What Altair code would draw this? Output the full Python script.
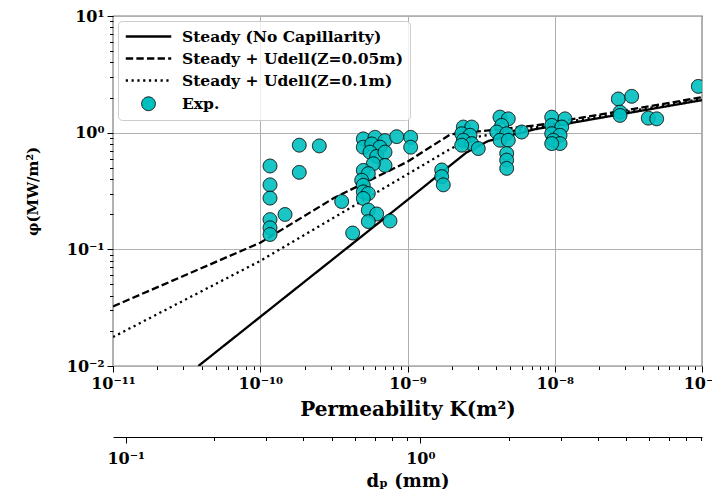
import altair as alt
import pandas as pd

FONT = "DejaVu Serif"

SERIES = ["Steady (No Capillarity)", "Steady + Udell(Z=0.05m)",
          "Steady + Udell(Z=0.1m)", "Exp."]

# model curves (K in m^2, phi in MW/m^2)
steady_K = [3.8e-11, 1.0e-9, 2.51e-9, 3.55e-9, 7.35e-9, 1.0e-7]
steady_phi = [0.01, 0.265, 0.676, 0.851, 1.07, 1.90]

udell005_K = [1e-11, 1e-10, 3.16e-10, 1e-9, 1.95e-9, 7.35e-9, 1e-7]
udell005_phi = [0.0324, 0.114, 0.275, 0.564, 0.966, 1.151, 2.01]

udell01_K = [1e-11, 1e-10, 1e-9, 1.95e-9, 2.82e-9, 7.35e-9, 1e-7]
udell01_phi = [0.0177, 0.0796, 0.440, 0.724, 0.912, 1.109, 1.95]

# experimental points
exp_K = [1.165e-10, 1.165e-10, 1.165e-10, 1.165e-10, 1.165e-10, 1.165e-10,
         1.473e-10, 1.841e-10, 2.518e-10, 1.841e-10, 3.573e-10, 4.243e-10,
         5.010e-10, 6.016e-10, 7.034e-10, 8.446e-10, 1.051e-9, 1.051e-9,
         5.010e-10, 5.714e-10, 6.503e-10, 5.564e-10, 6.177e-10, 7.034e-10,
         7.034e-10, 5.858e-10, 5.010e-10, 5.418e-10, 4.887e-10, 5.010e-10,
         5.010e-10, 5.418e-10, 5.010e-10, 5.418e-10, 6.177e-10, 5.418e-10,
         7.606e-10, 1.707e-9, 1.707e-9, 1.750e-9,
         2.393e-9, 2.729e-9, 2.334e-9, 2.657e-9, 2.393e-9, 2.729e-9, 2.334e-9, 3.025e-9,
         4.247e-9, 4.836e-9, 4.361e-9, 4.034e-9, 4.717e-9, 5.965e-9, 4.247e-9,
         4.836e-9, 4.717e-9, 4.717e-9, 4.717e-9,
         9.535e-9, 1.174e-8, 9.535e-9, 1.115e-8, 9.535e-9, 1.086e-8, 9.777e-9,
         1.086e-8, 9.535e-9,
         2.701e-8, 3.331e-8, 2.774e-8, 2.774e-8, 4.317e-8, 4.925e-8, 9.44e-8]
exp_phi = [0.518, 0.357, 0.275, 0.180, 0.153, 0.134,
           0.199, 0.781, 0.770, 0.457, 0.257, 0.138,
           0.884, 0.913, 0.855, 0.924, 0.913, 0.751,
           0.751, 0.801, 0.751, 0.681, 0.625, 0.681,
           0.524, 0.542, 0.475, 0.446, 0.391, 0.354,
           0.311, 0.301, 0.273, 0.217, 0.201, 0.173,
           0.175, 0.479, 0.420, 0.357,
           1.117, 1.117, 0.980, 0.950, 0.861, 0.806, 0.781, 0.731,
           1.359, 1.314, 1.155, 1.013, 0.980, 1.013, 0.861,
           0.861, 0.663, 0.582, 0.494,
           1.359, 1.314, 1.155, 1.117, 0.980, 0.950, 0.861,
           0.806, 0.806,
           1.944, 2.049, 1.498, 1.405, 1.332, 1.314, 2.493]

# axes
K_domain = [1e-11, 1e-7]
phi_domain = [1e-2, 1e1]
dp_domain = [0.0905, 9.05]
K_decades = [1e-11, 1e-10, 1e-9, 1e-8, 1e-7]
phi_decades = [1e-2, 1e-1, 1e0, 1e1]
dp_decades = [0.01, 0.1, 1.0]
minor_mult = [2, 3, 4, 5, 6, 7, 8, 9]

CYAN = "#00bfbf"
# legend styling per series (lines, lines, lines, marker)
LINE_SYMBOL = "M-3.3,0H3.3"
dash_range = [[1, 0], [7.4, 3.2], [2.2, 3.6], [1, 0]]
shape_range = [LINE_SYMBOL, LINE_SYMBOL, LINE_SYMBOL, "circle"]
width_range = [2.3, 2.3, 2.3, 1]
stroke_range = ["black", "black", "black", "black"]


def with_minor(decades, lo, hi):
    vals = []
    for d in decades:
        for m in [1] + minor_mult:
            v = d * m
            if lo * 0.999 <= v <= hi * 1.001:
                vals.append(v)
    return vals


K_ticks = with_minor(K_decades, *K_domain)
phi_ticks = with_minor(phi_decades, *phi_domain)
dp_ticks = with_minor(dp_decades, *dp_domain)

rows = []
for name, ks, ps in [(SERIES[0], steady_K, steady_phi),
                     (SERIES[1], udell005_K, udell005_phi),
                     (SERIES[2], udell01_K, udell01_phi)]:
    for k, p in zip(ks, ps):
        rows.append({"series": name, "K": k, "phi": p})
line_df = pd.DataFrame(rows)
exp_df = pd.DataFrame({"K": exp_K, "phi": exp_phi, "series": SERIES[3]})
dp_df = pd.DataFrame({"d": dp_domain})

L10 = "(log(datum.value)/LN10)"
EXPN = f"round{L10}"
IS_DEC = f"abs({L10} - {EXPN}) < 0.001"
SUP = "['⁰','¹','²','³','⁴','⁵','⁶','⁷','⁸','⁹']"
LABEL = (f"{IS_DEC} ? '10' + ({EXPN} < 0 ? '⁻' : '') + "
         f"(abs({EXPN}) >= 10 ? {SUP}[floor(abs({EXPN})/10)] : '') + "
         f"{SUP}[abs({EXPN}) % 10] : ''")


def make_axis(values, **kw):
    base = dict(
        values=values, labelExpr=LABEL, labelOverlap=False, labelFlush=False,
        labelFont=FONT, labelFontSize=16, labelFontWeight="bold", labelColor="black",
        labelPadding=3,
        tickColor="black", tickWidth=1,
        tickSize={"condition": {"test": IS_DEC, "value": 6}, "value": 3.5},
        gridColor="#b0b0b0", gridWidth=1,
        gridOpacity={"condition": {"test": IS_DEC, "value": 1}, "value": 0},
        titleFont=FONT, titleFontWeight="bold", titleColor="black",
    )
    base.update(kw)
    return alt.Axis(**base)


def make_legend():
    return alt.Legend(
        title=None, orient="top-left", offset=5, padding=7,
        symbolSize=190, symbolStrokeColor="black", symbolFillColor=CYAN,
        symbolOpacity=1,
        symbolOffset=15, labelOffset=25, rowPadding=5,
        labelFont=FONT, labelFontSize=15.5, labelFontWeight="bold", labelColor="black",
        labelLimit=400,
        strokeColor="#cccccc", fillColor="rgba(255,255,255,0.8)", cornerRadius=4,
    )


x_scale = alt.Scale(type="log", domain=K_domain, nice=False)
y_scale = alt.Scale(type="log", domain=phi_domain, nice=False)

dash_enc = alt.StrokeDash("series:N", scale=alt.Scale(domain=SERIES, range=dash_range),
                          legend=make_legend())
width_enc = alt.StrokeWidth("series:N",
                            scale=alt.Scale(type="ordinal", domain=SERIES, range=width_range),
                            legend=make_legend())
stroke_enc = alt.Stroke("series:N", scale=alt.Scale(domain=SERIES, range=stroke_range),
                        legend=make_legend())

lines = alt.Chart(line_df).mark_line(clip=True).encode(
    x=alt.X("K:Q", scale=x_scale,
            axis=make_axis(K_ticks, grid=True, domain=False,
                           title="Permeability K(m²)", titleFontSize=20, titlePadding=8)),
    y=alt.Y("phi:Q", scale=y_scale,
            axis=make_axis(phi_ticks, grid=True, domain=False,
                           title="φ(MW/m²)", titleFontSize=15, titlePadding=26)),
    strokeDash=dash_enc,
    strokeWidth=width_enc,
    stroke=stroke_enc,
)

points = alt.Chart(exp_df).mark_point(
    filled=True, fill=CYAN, size=190, opacity=1, fillOpacity=0.9,
    strokeOpacity=1, clip=True
).encode(
    x=alt.X("K:Q", scale=x_scale, axis=None),
    y=alt.Y("phi:Q", scale=y_scale),
    shape=alt.Shape("series:N", scale=alt.Scale(domain=SERIES, range=shape_range),
                    legend=make_legend()),
    strokeDash=dash_enc,
    strokeWidth=width_enc,
    stroke=stroke_enc,
)

secondary = alt.Chart(dp_df).mark_point(opacity=0).encode(
    x=alt.X("d:Q", scale=alt.Scale(type="log", domain=dp_domain, nice=False),
            axis=make_axis(dp_ticks, grid=False, domain=True, domainColor="black",
                           domainWidth=1.2, orient="bottom", offset=71, labelPadding=7,
                           title="dₚ (mm)", titleFontSize=18, titlePadding=6)),
)

chart = alt.layer(lines, points, secondary).resolve_scale(x="independent").properties(
    width=589, height=350,
    autosize=alt.AutoSizeParams(type="none"),
    padding={"left": 105, "top": 8, "right": 10, "bottom": 123},
).configure_view(stroke="black", strokeWidth=1.2)

chart.save("out.html", embed_options={"renderer": "svg", "actions": False})
